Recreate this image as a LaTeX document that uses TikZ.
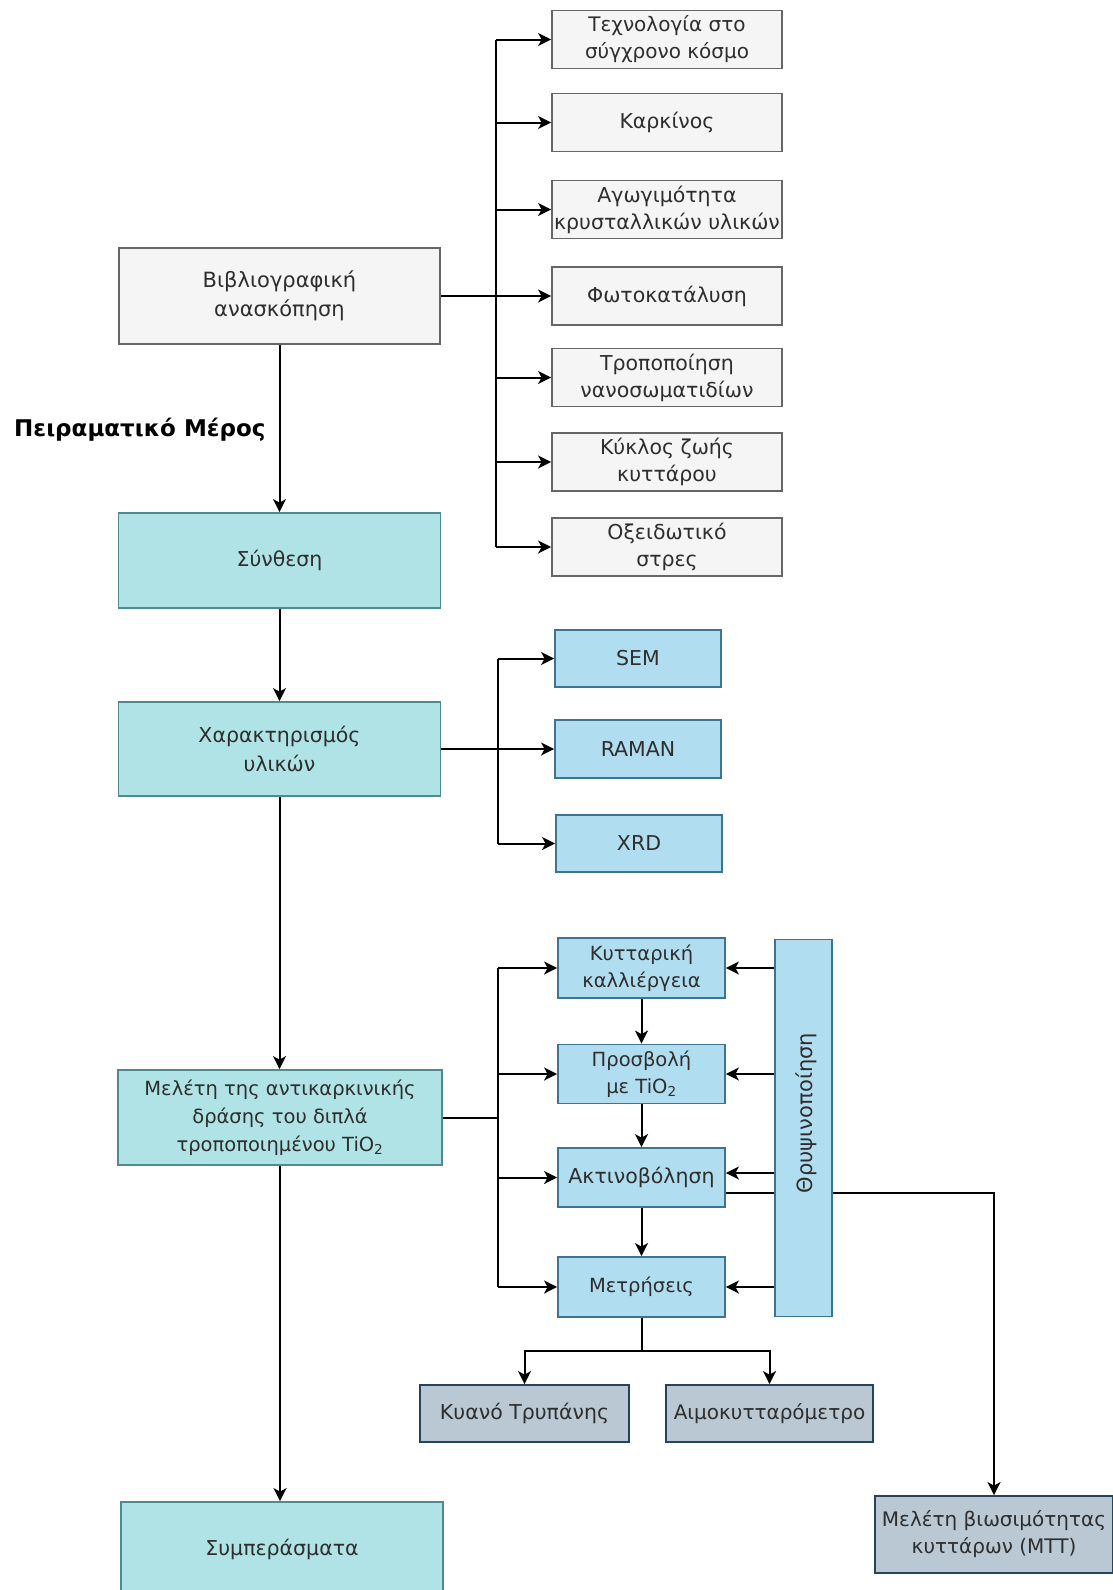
\documentclass[tikz,border=0pt]{standalone}
\usepackage{fontspec}
\setmainfont{DejaVu Sans}
\usetikzlibrary{arrows.meta,backgrounds}
\definecolor{txt}{HTML}{2E2E2E}
\definecolor{grayfill}{HTML}{F5F5F5}
\definecolor{graydraw}{HTML}{666666}
\definecolor{tealfill}{HTML}{B0E3E6}
\definecolor{tealdraw}{HTML}{4E8A8E}
\definecolor{bluefill}{HTML}{B1DDF0}
\definecolor{bluedraw}{HTML}{3E7391}
\definecolor{slatefill}{HTML}{BAC8D3}
\definecolor{slatedraw}{HTML}{23445D}
\tikzset{
  base/.style={draw, line width=1.8pt, inner sep=0pt, align=center, text=txt,
    font=\fontsize{20.5}{29}\selectfont},
  graybox/.style={base, fill=grayfill, draw=graydraw, minimum width=230pt, minimum height=58pt,
    font=\fontsize{20.5}{27}\selectfont},
  tealbox/.style={base, fill=tealfill, draw=tealdraw, minimum width=322pt, minimum height=95pt},
  bluebox/.style={base, fill=bluefill, draw=bluedraw, minimum width=167pt, minimum height=58pt},
  clusterbox/.style={bluebox, font=\fontsize{19.5}{27}\selectfont, minimum height=59pt},
  slatebox/.style={base, fill=slatefill, draw=slatedraw, minimum height=57pt},
  conn/.style={line width=2pt, draw=black},
  arr/.style={conn, -{Stealth[length=13pt,width=13pt,inset=3.5pt]}},
}
\begin{document}
\begin{tikzpicture}[x=1pt,y=-1pt]
\useasboundingbox (0,0) rectangle (1113,1590);
\clip (0,0) rectangle (1113,1590);

% --- literature review ---
\node[graybox, minimum width=321pt, minimum height=96pt, font=\fontsize{21}{29}\selectfont] (bib) at (279.5,296) {Βιβλιογραφική\\ανασκόπηση};
\node[graybox, font=\fontsize{20}{27}\selectfont] (c1) at (667,39.5) {Τεχνολογία στο\\σύγχρονο κόσμο};
\node[graybox] (c2) at (667,122.5) {Καρκίνος};
\node[graybox] (c3) at (667,209.5) {Αγωγιμότητα\\κρυσταλλικών υλικών};
\node[graybox] (c4) at (667,296) {Φωτοκατάλυση};
\node[graybox] (c5) at (667,377.5) {Τροποποίηση\\νανοσωματιδίων};
\node[graybox] (c6) at (667,462) {Κύκλος ζωής\\κυττάρου};
\node[graybox] (c7) at (667,547) {Οξειδωτικό\\στρες};

\coordinate (bt) at (496,39.5);
\coordinate (bb) at (496,547);
\draw[conn] (bt) -- (bb);
\draw[conn] (bib.east) -- (bib.east -| bt);
\foreach \c in {c1,c2,c3,c4,c5,c6,c7}
  \draw[arr] (bt |- \c.west) -- (\c.west);

\node[anchor=west, font=\bfseries\fontsize{23}{28}\selectfont, text=black, inner sep=0pt] (pm) at (14,430) {Πειραματικό Μέρος};

% --- main column ---
\node[tealbox] (syn) at (279.5,560.5) {Σύνθεση};
\node[tealbox, minimum height=94pt] (chr) at (279.5,749) {Χαρακτηρισμός\\υλικών};
\node[tealbox, minimum width=324pt, font=\fontsize{19.5}{28}\selectfont] (mel) at (280,1117.5) {Μελέτη της αντικαρκινικής\\δράσης του διπλά\\τροποποιημένου TiO\textsubscript{2}};
\node[tealbox] (sum) at (282,1549.5) {Συμπεράσματα};

\draw[arr] (bib.south) -- (bib.south |- syn.north);
\draw[arr] (syn.south) -- (syn.south |- chr.north);
\draw[arr] (chr.south) -- (chr.south |- mel.north);
\draw[arr] (mel.south) -- (mel.south |- sum.north);

% --- characterisation ---
\node[bluebox, minimum width=166pt, minimum height=57pt] (sem) at (638,658.5) {SEM};
\node[bluebox, minimum width=166pt, minimum height=58pt] (ram) at (638,749) {RAMAN};
\node[bluebox, minimum width=166pt, minimum height=57pt] (xrd) at (639,843.5) {XRD};
\coordinate (ct) at (498,658.5);
\coordinate (cb) at (498,843.5);
\draw[conn] (ct) -- (cb);
\draw[conn] (chr.east) -- (chr.east -| ct);
\foreach \c in {sem,ram,xrd}
  \draw[arr] (ct |- \c.west) -- (\c.west);

% --- experimental cluster ---
\node[clusterbox, minimum height=60pt] (kyt) at (641.5,968) {Κυτταρική\\καλλιέργεια};
\node[clusterbox] (pros) at (641.5,1074) {Προσβολή\\με TiO\textsubscript{2}};
\node[clusterbox, font=\fontsize{20.5}{27}\selectfont] (akt) at (641.5,1177.5) {Ακτινοβόληση};
\node[clusterbox, minimum height=60pt] (metr) at (641.5,1287) {Μετρήσεις};
\node[bluebox, minimum width=57pt, minimum height=377pt] (thr) at (803.5,1128) {};
\node[rotate=90, text=txt, font=\fontsize{21}{27}\selectfont, inner sep=0pt] (thrl) at (806,1113) {Θρυψινοποίηση};

\coordinate (mt) at (498,968);
\coordinate (mb) at (498,1287);
\draw[conn] (mt) -- (mb);
\draw[conn] (mel.east) -- (mel.east -| mt);
\foreach \c in {kyt,pros,akt,metr}
  \draw[arr] (mt |- \c.west) -- (\c.west);

\draw[arr] (kyt.south) -- (pros.north);
\draw[arr] (pros.south) -- (akt.north);
\draw[arr] (akt.south) -- (metr.north);

\coordinate (aktin) at ([yshift=4.5pt]akt.east);
\coordinate (aktout) at ([yshift=-15.5pt]akt.east);
\draw[arr] (thr.west |- kyt.east) -- (kyt.east);
\draw[arr] (thr.west |- pros.east) -- (pros.east);
\draw[arr] (thr.west |- aktin) -- (aktin);
\draw[arr] (thr.west |- metr.east) -- (metr.east);

% --- measurement outputs ---
\node[slatebox, minimum width=209pt] (kya) at (524.5,1413.5) {Κυανό Τρυπάνης};
\node[slatebox, minimum width=207pt, font=\fontsize{20}{27}\selectfont] (aim) at (769.5,1413.5) {Αιμοκυτταρόμετρο};
\node[slatebox, minimum width=238pt, minimum height=77pt, font=\fontsize{20}{27}\selectfont] (mtt) at (994,1534.5) {Μελέτη βιωσιμότητας\\κυττάρων (MTT)};

\coordinate (mj) at (641.5,1351);
\draw[conn] (metr.south) -- (mj);
\draw[arr] (mj) -| (kya.north);
\draw[arr] (mj) -| (aim.north);

\begin{pgfonlayer}{background}
\fill[white] (0,0) rectangle (1113,1590);
\draw[arr] (aktout) -| (mtt.north);
\end{pgfonlayer}
\end{tikzpicture}
\end{document}
